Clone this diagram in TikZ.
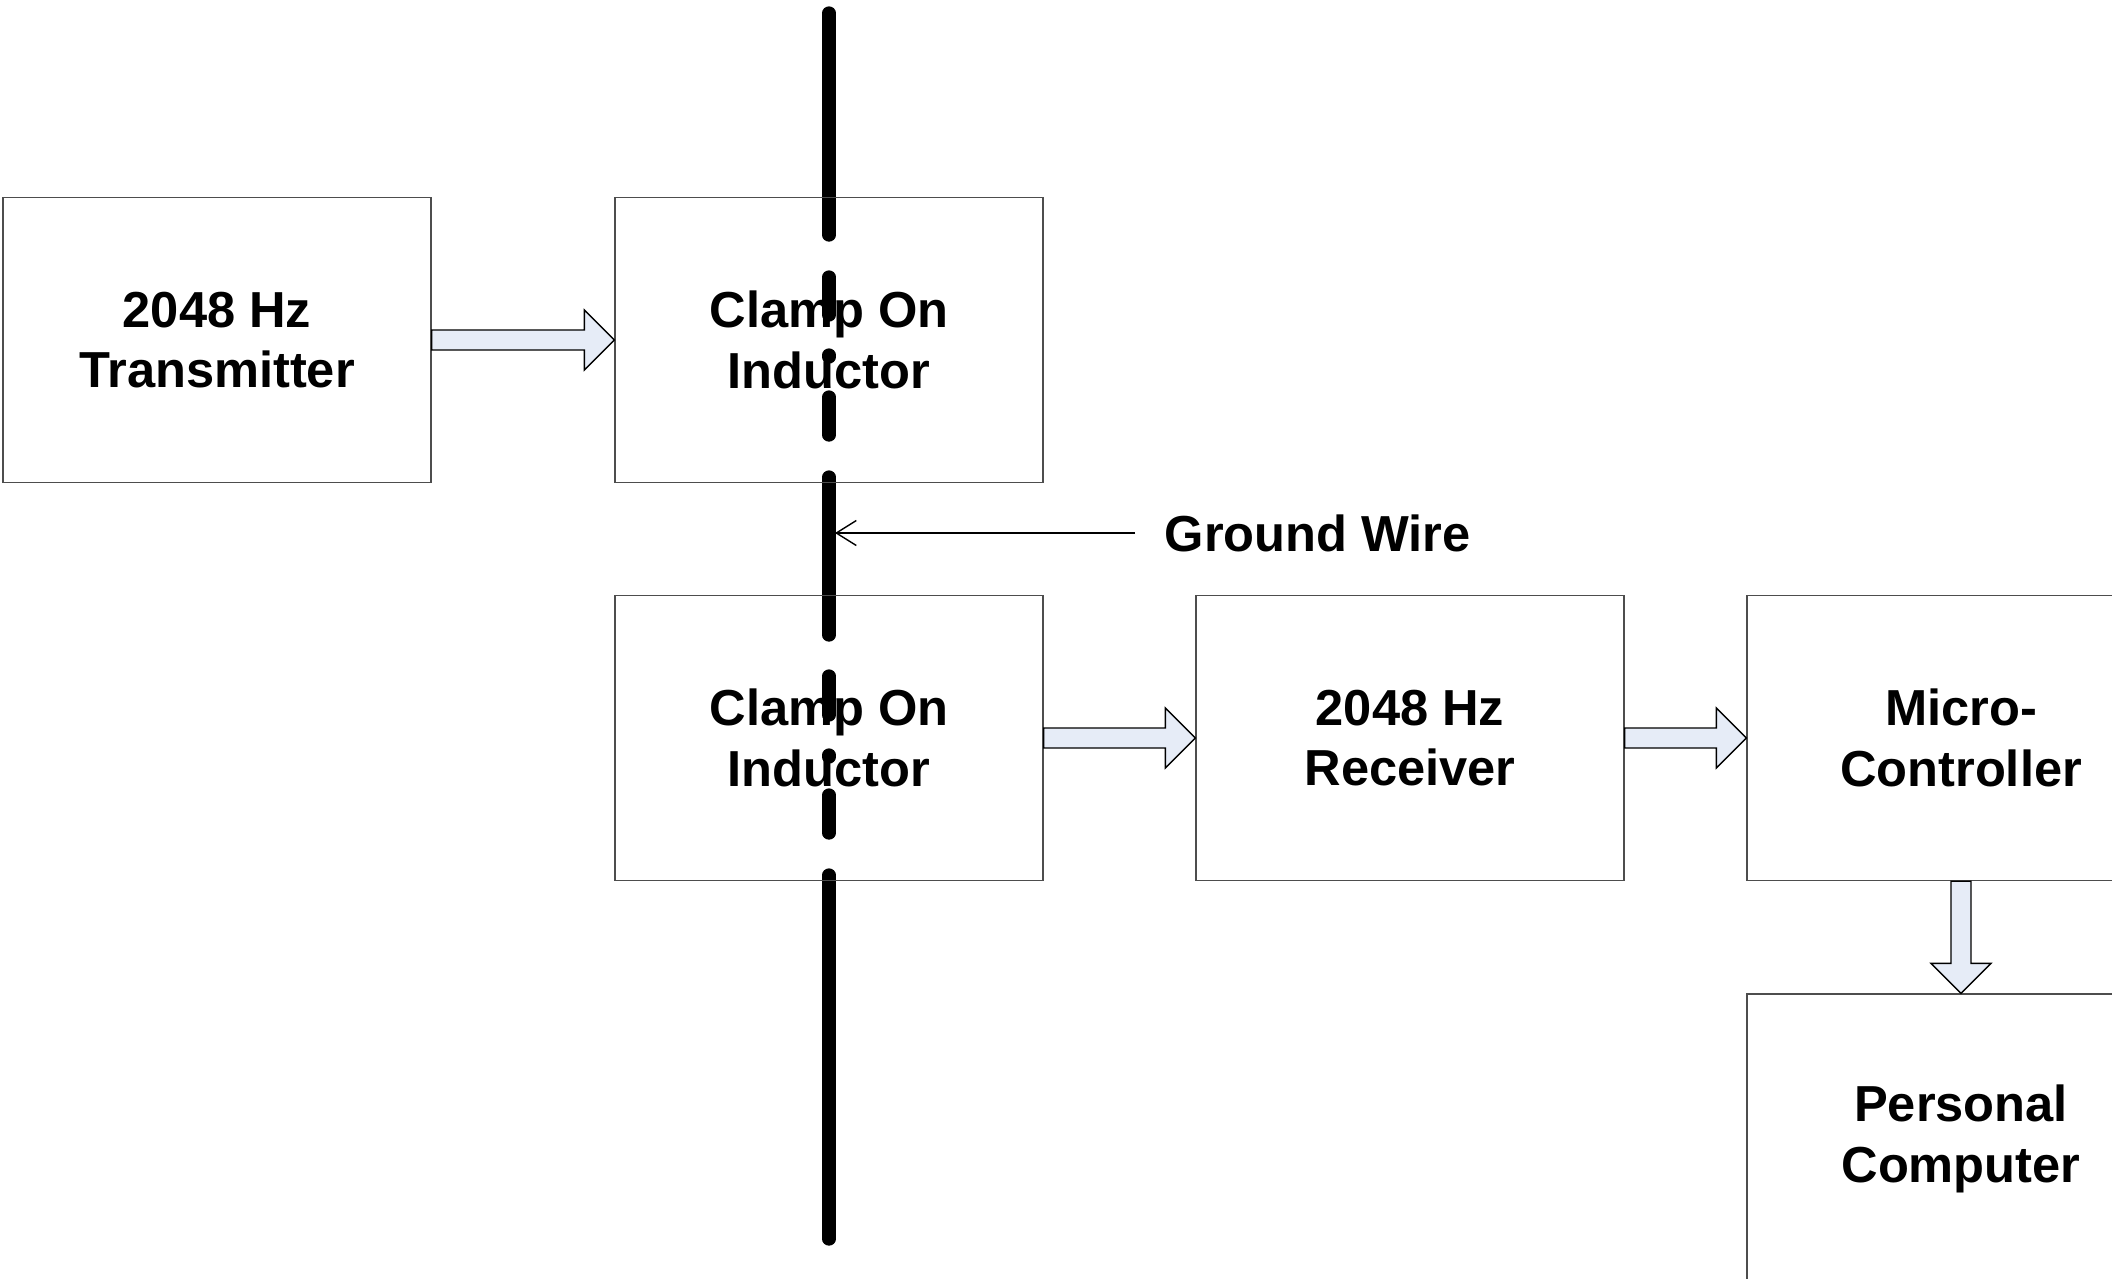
\documentclass[tikz,border=0pt]{standalone}
\usepackage{fontspec}
\setmainfont{Liberation Sans}
\usepackage{tikz}
\usetikzlibrary{arrows.meta, calc}
\definecolor{bLine}{HTML}{4D4D4D}
\definecolor{aFill}{HTML}{E6ECF7}
\definecolor{wInk}{HTML}{000000}
\tikzset{
  blockcell/.style={draw=bLine, line width=0.4pt, minimum width=4.28cm, minimum height=2.85cm,
    inner sep=2pt, align=center, font=\fontsize{14.4}{17.3}\selectfont\bfseries},
  gwlabel/.style={font=\fontsize{14.4}{17.3}\selectfont\bfseries, inner sep=0pt},
  wire/.style={draw=wInk, line width=0.133cm, line cap=round},
  blockarrow/.style={draw=black, fill=aFill, line width=0.4pt, line join=miter},
  gwarrow/.style={-{Straight Barb[length=0.2cm, width=0.25cm]}, draw=black, line width=0.4pt},
}
\newcommand{\harrow}[2]{%
  \draw[blockarrow] let \p1=(#1.east), \p2=(#2.west) in
    (\x1,\y1+0.1cm) -- (\x2-0.3cm,\y1+0.1cm) -- (\x2-0.3cm,\y1+0.3cm) -- (\x2,\y1)
    -- (\x2-0.3cm,\y1-0.3cm) -- (\x2-0.3cm,\y1-0.1cm) -- (\x1,\y1-0.1cm) -- cycle;}
\newcommand{\varrow}[2]{%
  \draw[blockarrow] let \p1=(#1.south), \p2=(#2.north) in
    (\x1-0.1cm,\y1) -- (\x1-0.1cm,\y2+0.3cm) -- (\x1-0.3cm,\y2+0.3cm) -- (\x1,\y2)
    -- (\x1+0.3cm,\y2+0.3cm) -- (\x1+0.1cm,\y2+0.3cm) -- (\x1+0.1cm,\y1) -- cycle;}

\begin{document}
\begin{tikzpicture}
  \useasboundingbox (0,0) rectangle (21.12,-12.78);
  \clip (0,0) rectangle (21.12,-12.78);
  % ground wire, broken where it passes the clamps
  \foreach \ya/\yb in {0.13/2.35, 2.77/3.15, 3.55/3.57, 3.97/4.35, 4.77/6.35,
                       6.76/7.15, 7.55/7.57, 7.95/8.33, 8.75/12.39}
    \draw[wire] (8.29,-\ya) -- (8.29,-\yb);
  \node[blockcell] (tx) at (2.17,-3.40) {2048 Hz\\Transmitter};
  \node[blockcell] (cl1) at (8.29,-3.40) {Clamp On\\Inductor};
  \node[blockcell] (cl2) at (8.29,-7.38) {Clamp On\\Inductor};
  \node[blockcell] (rx) at (14.10,-7.38) {2048 Hz\\Receiver};
  \node[blockcell] (mc) at (19.61,-7.38) {Micro-\\Controller};
  \node[blockcell, minimum height=2.9cm] (pc) at (19.61,-11.39) {Personal\\Computer};
  \harrow{tx}{cl1}
  \harrow{cl2}{rx}
  \harrow{rx}{mc}
  \varrow{mc}{pc}
  % label for the wire
  \node[gwlabel, anchor=west] (gw) at (11.64,-5.33) {Ground Wire};
  \coordinate (gwtip) at (8.35,-5.33);
  \draw[gwarrow] ([xshift=-0.29cm]gw.west) -- (gwtip);
\end{tikzpicture}
\end{document}
